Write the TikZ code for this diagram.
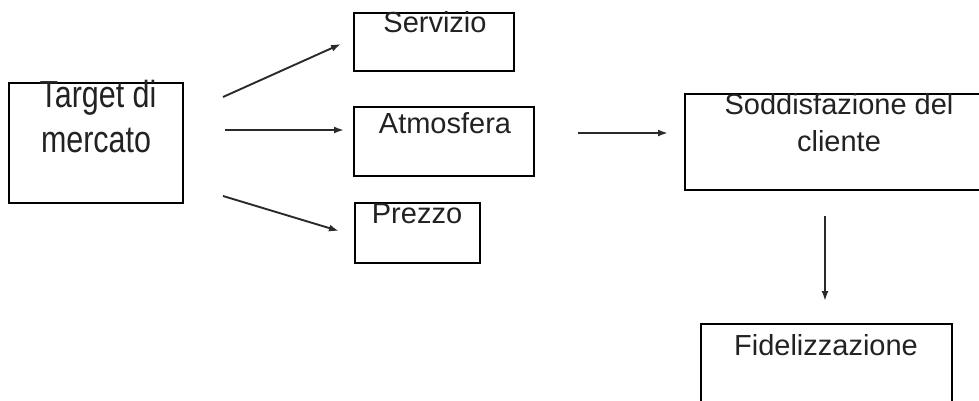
\documentclass[tikz,border=0pt]{standalone}
\usepackage{fontspec}
\setmainfont{Liberation Sans}
\usetikzlibrary{arrows.meta}
\definecolor{ink}{HTML}{222222}
\definecolor{wire}{HTML}{2a2a2a}
\tikzset{
  box/.style={draw=black, line width=1.9pt, fill=white, inner sep=0pt, rectangle},
  lbl/.style={anchor=base, inner sep=0pt, text=ink, font=\fontsize{29}{28}\selectfont},
  link/.style={draw=wire, line width=1.9pt, -{Latex[length=10pt,width=7pt]}}
}
\begin{document}
\begin{tikzpicture}[x=1pt,y=-1pt]
\useasboundingbox (0,0) rectangle (979,401);
% boxes
\node[box, minimum width=174pt, minimum height=120pt] (tgt) at (96,143) {};
\node[box, minimum width=160pt, minimum height=58pt] (serv) at (434,42) {};
\node[box, minimum width=180pt, minimum height=69pt] (atm) at (444,141.5) {};
\node[box, minimum width=125pt, minimum height=60pt] (prz) at (417.5,233) {};
\node[box, minimum width=308pt, minimum height=96pt] (sodd) at (839,142) {};
\node[box, minimum width=251pt, minimum height=96pt] (fid) at (826.5,372) {};
% texts
\node[lbl] (tgtA) at (98,108) {\scalebox{1.05}[1.3]{Target di}};
\node[lbl] (tgtB) at (96,153) {\scalebox{1.05}[1.3]{mercato}};
\node[lbl] (servT) at (435,33) {Servizio};
\node[lbl] (atmT) at (445,133) {Atmosfera};
\node[lbl] (przT) at (417,223) {Prezzo};
\node[lbl] (soddA) at (839,115) {Soddisfazione del};
\node[lbl] (soddB) at (839,151) {cliente};
\node[lbl] (fidT) at (826,355) {Fidelizzazione};
% connector ends
\coordinate (s1) at (223,97);  \coordinate (e1) at (341,44);
\coordinate (s2) at (225,130); \coordinate (e2) at (344,130);
\coordinate (s3) at (223,196); \coordinate (e3) at (339,231);
\coordinate (s4) at (578,133); \coordinate (e4) at (668,133);
\coordinate (s5) at (825,216); \coordinate (e5) at (825,301);
\draw[link] (s1) -- (e1);
\draw[link] (s2) -- (e2);
\draw[link] (s3) -- (e3);
\draw[link] (s4) -- (e4);
\draw[link] (s5) -- (e5);
\end{tikzpicture}
\end{document}
